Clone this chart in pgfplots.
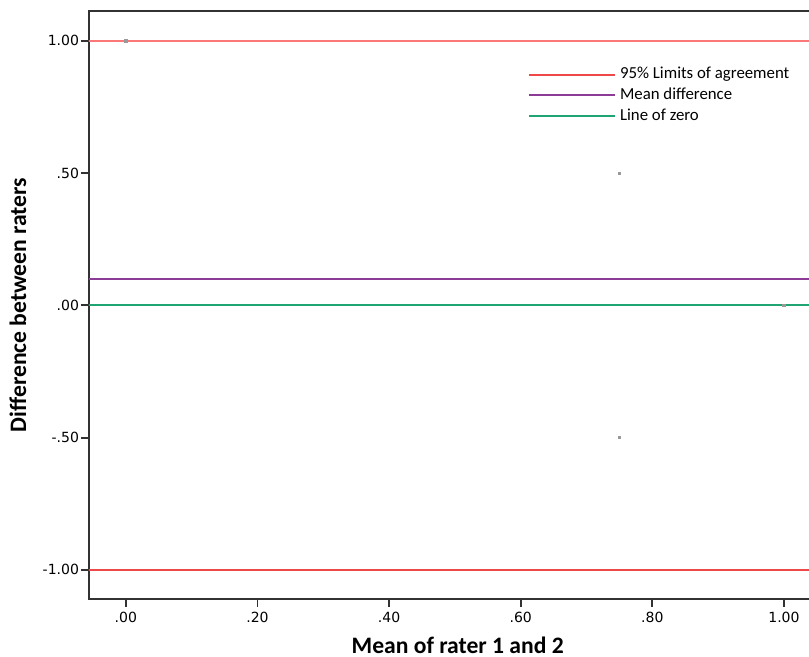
\documentclass[border=0pt]{standalone}
\usepackage{fontspec}
\usepackage{pgfplots}
\pgfplotsset{compat=1.18}
\newfontfamily\carlito{Carlito}
\newfontfamily\carlitob{Carlito Bold}
\newfontfamily\dejavu{DejaVu Sans}
\setmainfont{Carlito}
\definecolor{loa}{RGB}{238,72,72}
\definecolor{loaup}{RGB}{250,120,120}
\definecolor{meand}{RGB}{140,60,150}
\definecolor{linezero}{RGB}{30,165,115}
\definecolor{axisc}{RGB}{50,50,50}
\begin{document}
\begin{tikzpicture}
\begin{axis}[
  scale only axis,
  width=361.5pt, height=294pt,
  xmin=-0.056, xmax=1.0426,
  ymin=-1.110, ymax=1.113,
  xtick={0,0.2,0.4,0.6,0.8,1.0},
  xticklabels={.00,.20,.40,.60,.80,1.00},
  ytick={-1,-0.5,0,0.5,1},
  yticklabels={-1.00,-.50,.00,.50,1.00},
  xtick pos=left, ytick pos=left,
  tick align=outside,
  major tick length=4pt,
  tick style={axisc, line width=0.9pt},
  axis line style={axisc, line width=1pt},
  ticklabel style={font=\dejavu\fontsize{7}{8}\selectfont, text=black},
  xticklabel style={yshift=1pt},
  yticklabel style={xshift=2.5pt},
  xlabel={Mean of rater 1 and 2},
  ylabel={Difference between raters},
  every axis x label/.style={at={([yshift=-23.3pt]axis description cs:0.51,0)}, anchor=center, font=\carlitob\fontsize{11.8}{13}\selectfont},
  every axis y label/.style={at={([xshift=-35.5pt]axis description cs:0,0.5)}, rotate=90, anchor=center, font=\carlitob\fontsize{11.8}{13}\selectfont},
  legend style={draw=none, fill=none, at={(rel axis cs:0.604,0.915)}, anchor=north west,
    font=\carlito\fontsize{8.4}{9}\selectfont, row sep=-1pt, inner sep=1pt},
  legend cell align=left,
  legend image code/.code={\draw[#1] (0pt,0pt) -- (40pt,0pt); \path (0pt,0pt) -- (43pt,0pt);},
]
\addplot[loaup, line width=1pt, forget plot] coordinates {(-0.1,1.0) (1.1,1.0)};
\addplot[loa, line width=1pt] coordinates {(-0.1,-1.0) (1.1,-1.0)};
\addlegendentry{95\% Limits of agreement}
\addplot[meand, line width=1pt] coordinates {(-0.1,0.10) (1.1,0.10)};
\addlegendentry{Mean difference}
\addplot[linezero, line width=1pt] coordinates {(-0.1,0) (1.1,0)};
\addlegendentry{Line of zero}
\addplot[only marks, mark=square*, mark size=0.6pt, color=gray!80, forget plot]
  coordinates {(0,1) (0.75,0.5) (0.75,-0.5) (1,0)};
\end{axis}
\pgfresetboundingbox
\path[use as bounding box] ([shift={(-44.5pt,-29pt)}]current axis.south west) rectangle ([shift={(-1.5pt,5.5pt)}]current axis.north east);
\end{tikzpicture}
\end{document}
